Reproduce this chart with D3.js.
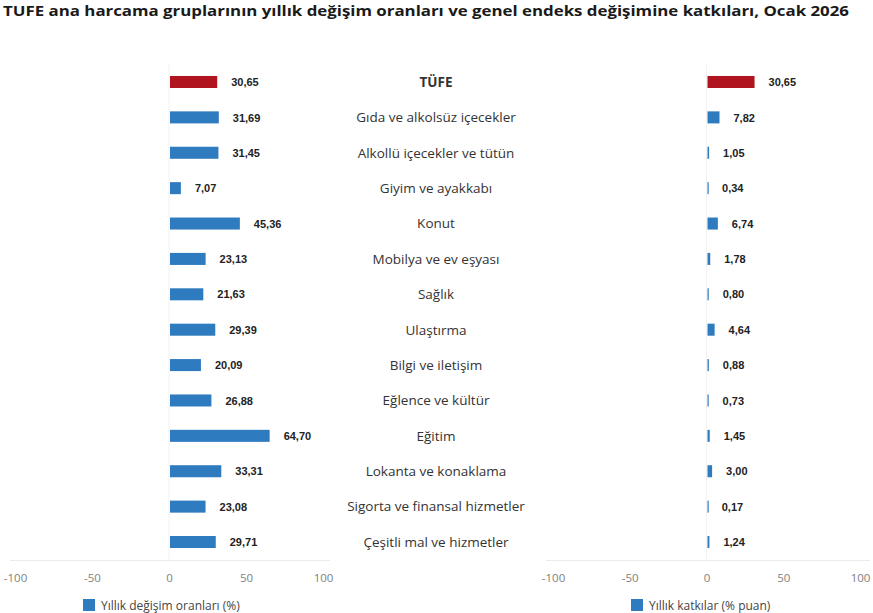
<!DOCTYPE html>
<html>
<head>
<meta charset="utf-8">
<script src="https://cdn.jsdelivr.net/npm/d3@7"></script>
<style>
  body { margin: 0; background: #fff; }
  svg { display: block; }
</style>
</head>
<body>
<div id="chart"></div>
<script>
const categories = [
  'TÜFE', 'Gıda ve alkolsüz içecekler', 'Alkollü içecekler ve tütün', 'Giyim ve ayakkabı',
  'Konut', 'Mobilya ve ev eşyası', 'Sağlık', 'Ulaştırma', 'Bilgi ve iletişim',
  'Eğlence ve kültür', 'Eğitim', 'Lokanta ve konaklama', 'Sigorta ve finansal hizmetler',
  'Çeşitli mal ve hizmetler'
];
const annualChange = [30.65, 31.69, 31.45, 7.07, 45.36, 23.13, 21.63, 29.39, 20.09, 26.88, 64.70, 33.31, 23.08, 29.71];
const contribution = [30.65, 7.82, 1.05, 0.34, 6.74, 1.78, 0.80, 4.64, 0.88, 0.73, 1.45, 3.00, 0.17, 1.24];
const tickValues = [-100, -50, 0, 50, 100];
const legendLabels = ['Yıllık değişim oranları (%)', 'Yıllık katkılar (% puan)'];
const titleText = 'TUFE ana harcama gruplarının yıllık değişim oranları ve genel endeks değişimine katkıları, Ocak 2026';

const WIDTH = 873;
const HEIGHT = 613;
const BLUE = '#2f7bbf';
const RED = '#b0141e';

const trLocale = d3.formatLocale({ decimal: ',', thousands: '.', grouping: [3], currency: ['', ''] });
const fmt = trLocale.format('.2f');

const svg = d3.select('#chart').append('svg')
  .attr('width', WIDTH)
  .attr('height', HEIGHT);

// title
svg.append('text')
  .attr('x', 3)
  .attr('y', 16)
  .attr('textLength', 846)
  .attr('lengthAdjust', 'spacingAndGlyphs')
  .style('font-family', '"Open Sans", sans-serif')
  .style('font-size', '15px')
  .style('font-weight', 'bold')
  .style('fill', '#1a1a1a')
  .text(titleText);

const y = d3.scaleBand()
  .domain(categories)
  .range([64.3, 559.7])
  .paddingInner(0.66)
  .paddingOuter(0.33);

/*
* drawPanel - one half of the chart: bars, value labels, axis, legend
*/
function drawPanel(values, range, legendX, legendText, lineRange) {
  const x = d3.scaleLinear().domain([-100, 100]).range(range);
  const g = svg.append('g');

  // zero line
  g.append('line')
    .attr('x1', x(0)).attr('x2', x(0))
    .attr('y1', 64).attr('y2', 560)
    .attr('stroke', '#f2f2f2').attr('stroke-width', 1);

  // bottom line
  g.append('line')
    .attr('x1', lineRange[0]).attr('x2', lineRange[1])
    .attr('y1', 560.5).attr('y2', 560.5)
    .attr('stroke', '#ebebeb').attr('stroke-width', 1);

  g.selectAll('rect.bar')
    .data(values)
    .join('rect')
    .attr('class', 'bar')
    .attr('x', (d) => x(Math.min(0, d)) + 1)
    .attr('y', (d, i) => y(categories[i]))
    .attr('width', (d) => Math.max(1.2, Math.abs(x(d) - x(0))))
    .attr('height', y.bandwidth())
    .attr('fill', (d, i) => (i === 0 ? RED : BLUE));

  g.selectAll('text.val')
    .data(values)
    .join('text')
    .attr('class', 'val')
    .attr('x', (d) => x(d) + 15)
    .attr('y', (d, i) => y(categories[i]) + y.bandwidth() / 2)
    .attr('dy', '0.38em')
    .style('font-family', '"Liberation Sans", Arial, sans-serif')
    .style('font-size', '11px')
    .style('font-weight', 'bold')
    .style('fill', '#222')
    .text((d) => fmt(d));

  const axis = d3.axisBottom(x)
    .tickValues(tickValues)
    .tickSize(0)
    .tickPadding(0)
    .tickFormat((d) => String(d));

  const ax = g.append('g')
    .attr('transform', 'translate(0,574)')
    .call(axis);
  ax.select('.domain').remove();
  ax.selectAll('text')
    .style('font-family', '"Open Sans", sans-serif')
    .style('font-size', '11.5px')
    .style('fill', '#808080');

  // legend
  g.append('rect')
    .attr('x', legendX).attr('y', 599)
    .attr('width', 12).attr('height', 12)
    .attr('fill', BLUE);
  g.append('text')
    .attr('x', legendX + 18).attr('y', 610)
    .style('font-family', '"Open Sans", sans-serif')
    .style('font-size', '12px')
    .style('fill', '#444')
    .text(legendText);
}

drawPanel(annualChange, [15, 323], 83, legendLabels[0], [10, 330]);
drawPanel(contribution, [553, 860], 631, legendLabels[1], [546, 870]);

// category labels in the middle
svg.append('g').selectAll('text')
  .data(categories)
  .join('text')
  .attr('x', 436)
  .attr('y', (d) => y(d) + y.bandwidth() / 2)
  .attr('dy', '0.36em')
  .attr('text-anchor', 'middle')
  .style('font-family', '"Open Sans", sans-serif')
  .style('font-size', '13.5px')
  .style('font-weight', (d, i) => (i === 0 ? 'bold' : 'normal'))
  .style('fill', '#333')
  .text((d) => d);
</script>
</body>
</html>
